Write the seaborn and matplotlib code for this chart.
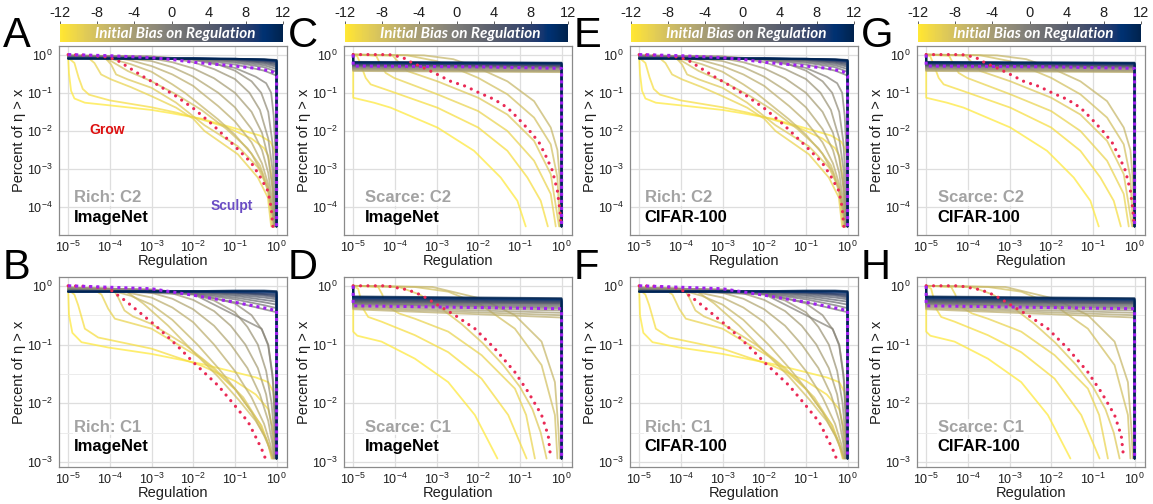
import numpy as np
import pandas as pd
import matplotlib
matplotlib.use("Agg")
import matplotlib.pyplot as plt
import seaborn as sns
from matplotlib.ticker import LogFormatterMathtext, FixedLocator, NullLocator, NullFormatter
import matplotlib.cm as cm
import matplotlib.colors as mcolors

# ------------------------------------------------------------------
# Data (log10 of regulation, log10 of percent)
# ------------------------------------------------------------------
CBAR_TICKS = [-12, -8, -4, 0, 4, 8, 12]
X_EXP = [-5, -4, -3, -2, -1, 0]
Y_EXP_TOP = [0, -1, -2, -3, -4]
Y_EXP_BOT = [0, -1, -2, -3]
FLOOR_C2 = -4.5
FLOOR_C1 = -2.94

# ---- Rich, C2 (panels A, E) : curves that bend away from the bundle
rich_c2_bias = [-12, -11, -10, -9, -8, -7, -6, -5, -4, -3, -2, -1]
rich_c2_lx = [
    [-5, -4.98, -4.93, -4.85, -4.6, -4, -3, -2.5, -1.8, -1, -0.4, -0.15, -0.05, 0, 0],
    [-5, -4.85, -4.75, -4.65, -4.5, -4, -3, -2.4, -1.8, -1.2, -0.6, -0.3, -0.2, -0.12, -0.06, -0.04],
    [-5, -4.5, -4.37, -4.21, -3.97, -3.5, -3, -2.41, -2.0, -1.73, -0.93, -0.45, -0.21, -0.13],
    [-5, -4.1, -3.97, -3.85, -3.57, -3, -2.41, -1.73, -0.93, -0.45, -0.21, -0.1],
    [-5, -4.2, -3.97, -3.57, -3.0, -2.41, -1.8, -1.2, -0.7, -0.4, -0.2, -0.1, -0.06],
    [-5, -4, -3.5, -3, -2.5, -2.2, -1.8, -1.4, -1, -0.6, -0.35, -0.2, -0.1, -0.07],
    [-5, -4, -3.5, -3, -2.5, -2, -1.8, -1.4, -1, -0.6, -0.35, -0.2, -0.1, -0.06],
    [-5, -4, -3, -2.5, -2, -1.4, -1, -0.6, -0.35, -0.2, -0.1, -0.05],
    [-5, -3.5, -3, -2.5, -2, -1.5, -1, -0.6, -0.35, -0.2, -0.1, -0.05],
    [-5, -3, -2.5, -2, -1.5, -1, -0.65, -0.4, -0.2, -0.1, -0.05, -0.03],
    [-5, -3, -2, -1.5, -1, -0.6, -0.37, -0.2, -0.1, -0.05, -0.02],
    [-5, -3, -2, -1, -0.5, -0.25, -0.13, -0.07, -0.03, 0],
]
rich_c2_ly = [
    [-0.08, -0.5, -0.95, -1.15, -1.26, -1.33, -1.45, -1.54, -1.68, -1.93, -2.12, -2.28, -2.5, -2.7, -4.5],
    [-0.08, -0.22, -0.6, -0.9, -1.05, -1.2, -1.38, -1.52, -1.7, -1.9, -2.2, -2.45, -2.65, -3.2, -4.0, -4.5],
    [-0.06, -0.1, -0.22, -0.52, -0.65, -0.85, -1.09, -1.39, -1.68, -2.0, -2.61, -3.22, -3.74, -4.5],
    [-0.05, -0.1, -0.26, -0.52, -0.65, -0.87, -1.26, -1.85, -2.4, -2.95, -3.5, -4.5],
    [-0.04, -0.08, -0.17, -0.43, -0.7, -1.04, -1.45, -1.95, -2.45, -2.9, -3.5, -4.1, -4.5],
    [-0.05, -0.1, -0.25, -0.45, -0.78, -1.0, -1.35, -1.7, -2.1, -2.6, -3.1, -3.6, -4.2, -4.5],
    [-0.04, -0.06, -0.15, -0.3, -0.52, -0.82, -1.0, -1.35, -1.75, -2.3, -2.85, -3.4, -4.1, -4.5],
    [-0.03, -0.05, -0.17, -0.33, -0.58, -1.0, -1.38, -1.95, -2.5, -3.1, -3.9, -4.5],
    [-0.02, -0.05, -0.1, -0.2, -0.36, -0.62, -1.0, -1.5, -2.05, -2.7, -3.5, -4.5],
    [-0.02, -0.05, -0.1, -0.2, -0.38, -0.64, -1.0, -1.45, -2.2, -3.0, -4.0, -4.5],
    [-0.03, -0.05, -0.12, -0.22, -0.42, -0.7, -1.0, -1.5, -2.3, -3.3, -4.5],
    [-0.05, -0.08, -0.14, -0.35, -0.58, -0.75, -1.0, -1.6, -2.5, -4.5],
]
# flat bundle, biases 0..12, sampled at these regulation exponents
bundle_rich_lx = [-5, -2, -1, -0.3, 0]
rich_bundle_bias = [0, 1, 2, 3, 4, 5, 6, 7, 8, 9, 10, 11, 12]
rich_c2_bundle_ly = [
    [-0.04, -0.12, -0.26, -0.42, -0.55],
    [-0.05, -0.11, -0.21, -0.33, -0.45],
    [-0.06, -0.10, -0.18, -0.28, -0.38],
    [-0.07, -0.10, -0.15, -0.24, -0.32],
    [-0.08, -0.10, -0.14, -0.21, -0.28],
    [-0.08, -0.10, -0.13, -0.19, -0.25],
    [-0.09, -0.10, -0.12, -0.17, -0.22],
    [-0.09, -0.10, -0.12, -0.16, -0.20],
    [-0.10, -0.10, -0.12, -0.15, -0.18],
    [-0.10, -0.10, -0.11, -0.14, -0.17],
    [-0.10, -0.10, -0.11, -0.13, -0.16],
    [-0.11, -0.11, -0.11, -0.13, -0.15],
    [-0.11, -0.11, -0.11, -0.12, -0.14],
]
rich_c2_grow_lx = [-5, -4.5, -4.1, -3.85, -3.53, -3.21, -2.89, -2.41, -1.97, -1.53, -1.01, -0.61, -0.41, -0.21, -0.13, -0.09]
rich_c2_grow_ly = [0, -0.02, -0.06, -0.13, -0.35, -0.57, -0.77, -1.09, -1.43, -1.84, -2.39, -2.83, -3.17, -3.57, -4.0, -4.5]
rich_c2_sculpt_lx = [-5, -4, -3, -2.5, -2, -1, -0.4, -0.1, 0, 0]
rich_c2_sculpt_ly = [0, -0.03, -0.08, -0.13, -0.2, -0.3, -0.37, -0.45, -0.55, -4.5]

# ---- Rich, C1 (panels B, F)
rich_c1_bias = [-12, -11, -10, -9, -8, -7, -6, -5, -4, -3, -2, -1]
rich_c1_lx = [
    [-5, -4.98, -4.9, -4.68, -4.04, -3, -1.8, -1.0, -0.5, -0.2, -0.08, -0.02, 0],
    [-5, -4.85, -4.76, -4.6, -4.28, -3, -1.8, -1.0, -0.5, -0.2, -0.1, -0.04, 0],
    [-5, -4.3, -4.2, -4.04, -3.88, -3, -1.8, -1.0, -0.36, -0.2, -0.12],
    [-5, -3.9, -3.8, -3.65, -3.45, -3, -2.2, -1.5, -0.8, -0.4, -0.2, -0.1],
    [-5, -3.6, -3.2, -2.6, -2.0, -1.4, -0.9, -0.5, -0.25, -0.15, -0.1],
    [-5, -4, -3.5, -3, -2.5, -1.9, -1.4, -1, -0.6, -0.3, -0.15, -0.08],
    [-5, -4, -3, -2.5, -2, -1.5, -1, -0.6, -0.3, -0.15, -0.07],
    [-5, -3.5, -3, -2.5, -2, -1.5, -1.1, -0.7, -0.4, -0.2, -0.1, -0.06],
    [-5, -3, -2.5, -2, -1.5, -1.1, -0.75, -0.45, -0.25, -0.12, -0.05],
    [-5, -3, -2, -1.5, -1, -0.7, -0.45, -0.25, -0.12, -0.06, -0.03],
    [-5, -3, -2, -1, -0.6, -0.35, -0.2, -0.1, -0.05, -0.02],
    [-5, -3, -2, -1, -0.36, -0.2, -0.08, -0.03, 0],
]
rich_c1_ly = [
    [-0.08, -0.5, -0.8, -0.96, -1.05, -1.16, -1.33, -1.47, -1.56, -1.64, -1.8, -2.1, -2.94],
    [-0.06, -0.15, -0.33, -0.73, -0.88, -1.07, -1.36, -1.62, -1.85, -2.1, -2.4, -2.7, -2.94],
    [-0.05, -0.1, -0.15, -0.39, -0.56, -0.73, -1.24, -1.76, -2.38, -2.7, -2.94],
    [-0.04, -0.08, -0.2, -0.42, -0.52, -0.65, -1.0, -1.4, -1.9, -2.35, -2.7, -2.94],
    [-0.03, -0.1, -0.3, -0.68, -1.12, -1.55, -1.95, -2.3, -2.6, -2.8, -2.94],
    [-0.04, -0.07, -0.17, -0.32, -0.58, -1.0, -1.4, -1.75, -2.15, -2.55, -2.8, -2.94],
    [-0.03, -0.05, -0.2, -0.37, -0.62, -1.0, -1.45, -1.9, -2.35, -2.7, -2.94],
    [-0.03, -0.06, -0.12, -0.22, -0.4, -0.68, -1.0, -1.4, -1.85, -2.3, -2.7, -2.94],
    [-0.03, -0.07, -0.13, -0.24, -0.43, -0.68, -1.0, -1.4, -1.85, -2.4, -2.94],
    [-0.04, -0.06, -0.14, -0.25, -0.45, -0.7, -1.0, -1.45, -2.0, -2.5, -2.94],
    [-0.05, -0.07, -0.12, -0.3, -0.5, -0.75, -1.0, -1.5, -2.2, -2.94],
    [-0.06, -0.08, -0.14, -0.5, -0.73, -1.02, -1.64, -2.4, -2.94],
]
rich_c1_bundle_ly = [
    [-0.06, -0.15, -0.28, -0.40, -0.45],
    [-0.07, -0.13, -0.23, -0.33, -0.38],
    [-0.08, -0.12, -0.20, -0.28, -0.32],
    [-0.08, -0.11, -0.17, -0.24, -0.27],
    [-0.09, -0.10, -0.15, -0.20, -0.23],
    [-0.09, -0.10, -0.13, -0.17, -0.20],
    [-0.09, -0.10, -0.12, -0.15, -0.18],
    [-0.10, -0.10, -0.11, -0.14, -0.16],
    [-0.10, -0.10, -0.11, -0.13, -0.14],
    [-0.10, -0.10, -0.10, -0.11, -0.12],
    [-0.10, -0.10, -0.10, -0.10, -0.11],
    [-0.10, -0.09, -0.09, -0.09, -0.10],
    [-0.10, -0.09, -0.08, -0.08, -0.09],
]
rich_c1_grow_lx = [-5, -4.5, -4.1, -3.96, -3.6, -3.24, -2.9, -2.6, -2.3, -2.0, -1.7, -1.4, -1.0, -0.68, -0.44, -0.32, -0.27]
rich_c1_grow_ly = [0, -0.01, -0.04, -0.08, -0.27, -0.48, -0.68, -0.875, -1.08, -1.30, -1.5, -1.70, -2.04, -2.32, -2.66, -2.84, -2.94]
rich_c1_sculpt_lx = [-5, -3, -2, -1, -0.2, -0.03, 0, 0]
rich_c1_sculpt_ly = [0, -0.05, -0.16, -0.28, -0.39, -0.42, -0.42, -2.94]

# ---- Scarce, C2 (panels C, G)
scarce_c2_bias = [-12, -11, -10, -9, -8, -7]
scarce_c2_lx = [
    [-5, -5, -4.5, -4.1, -2.98, -2.1, -1.46, -1.06, -0.86],
    [-5, -4.9, -4.82, -4.7, -4.58, -4.1, -2.98, -2.0, -1.3, -0.82, -0.5, -0.33],
    [-5, -4.45, -4.34, -4.22, -4.02, -2.98, -2.0, -1.3, -0.66, -0.26, -0.14],
    [-5, -4.05, -3.86, -3.7, -2.98, -2.0, -1.3, -0.66, -0.26, -0.06],
    [-5, -3.7, -3, -2.5, -2, -1.3, -0.66, -0.26, -0.1, -0.04],
    [-5, -3.3, -2.6, -2, -1.3, -0.66, -0.26, -0.1, -0.04, -0.01],
]
scarce_c2_ly = [
    [0, -1.13, -1.26, -1.39, -1.91, -2.52, -3.22, -3.83, -4.5],
    [0, -0.05, -0.26, -0.61, -0.78, -0.96, -1.39, -1.91, -2.52, -3.22, -3.83, -4.5],
    [0, -0.03, -0.26, -0.48, -0.61, -1.04, -1.48, -2.0, -2.78, -3.65, -4.5],
    [0, -0.03, -0.26, -0.43, -0.7, -1.13, -1.57, -2.26, -3.13, -4.5],
    [0, -0.02, -0.17, -0.38, -0.61, -1.04, -1.65, -2.35, -3.22, -4.5],
    [0, -0.02, -0.12, -0.35, -0.7, -1.22, -1.91, -2.5, -3.3, -4.5],
]
scarce_bundle_bias = [-6, -5, -4, -3, -2, -1, 0, 1, 2, 3, 4, 5, 6, 7, 8, 9, 10, 11, 12]
scarce_c2_bundle_start = [-0.43, -0.41, -0.39, -0.37, -0.35, -0.33, -0.31, -0.30, -0.29, -0.28,
                          -0.27, -0.26, -0.25, -0.24, -0.23, -0.22, -0.21, -0.20, -0.19]
scarce_c2_bundle_end = [-0.46, -0.44, -0.42, -0.40, -0.37, -0.35, -0.33, -0.32, -0.31, -0.30,
                        -0.29, -0.28, -0.27, -0.26, -0.25, -0.24, -0.23, -0.22, -0.21]
scarce_c2_grow_lx = [-5, -4.14, -3.82, -3.58, -3.3, -2.98, -2.66, -2.3, -1.98, -1.62, -1.3, -1.06,
                     -0.78, -0.54, -0.38, -0.22, -0.1, -0.04, -0.01]
scarce_c2_grow_ly = [0, 0, -0.07, -0.22, -0.35, -0.52, -0.70, -0.83, -1.0, -1.17, -1.39, -1.65,
                     -1.98, -2.3, -2.65, -3.04, -3.57, -4.09, -4.5]
scarce_c2_sculpt_lx = [-5, -5, -2, 0, 0]
scarce_c2_sculpt_ly = [0, -0.3, -0.32, -0.36, -4.5]

# ---- Scarce, C1 (panels D, H)
scarce_c1_bias = [-12, -11, -10, -9, -8, -7]
scarce_c1_lx = [
    [-5, -5, -4.9, -4.32, -3.52, -2.72, -2.08, -1.54],
    [-5, -4.88, -4.76, -4.64, -4.32, -3.52, -2.72, -1.92, -1.28, -0.84],
    [-5, -4.4, -4.3, -4.24, -3.9, -3.52, -2.72, -1.92, -1.12, -0.85, -0.64],
    [-5, -3.9, -3.4, -2.9, -2.4, -1.9, -1.4, -1.0, -0.7, -0.5, -0.36],
    [-5, -3.52, -2.72, -1.92, -1.12, -0.48, -0.16, -0.1],
    [-5, -3.1, -1.92, -1.12, -0.48, -0.16, -0.08, -0.04],
]
scarce_c1_ly = [
    [0, -0.78, -0.85, -0.95, -1.24, -1.64, -2.2, -2.94],
    [0, -0.05, -0.39, -0.53, -0.61, -0.84, -1.13, -1.58, -2.2, -2.94],
    [0, -0.02, -0.15, -0.33, -0.47, -0.56, -0.78, -1.18, -1.75, -2.2, -2.94],
    [0, -0.02, -0.15, -0.38, -0.65, -0.97, -1.35, -1.72, -2.1, -2.5, -2.94],
    [0, -0.02, -0.1, -0.33, -0.73, -1.35, -2.2, -2.94],
    [0, -0.02, -0.22, -0.5, -0.95, -1.64, -2.4, -2.94],
]
scarce_c1_bundle_start = [-0.40, -0.38, -0.36, -0.34, -0.32, -0.31, -0.30, -0.29, -0.28, -0.27,
                          -0.26, -0.25, -0.24, -0.23, -0.22, -0.21, -0.20, -0.19, -0.18]
scarce_c1_bundle_end = [-0.54, -0.50, -0.46, -0.42, -0.39, -0.37, -0.35, -0.33, -0.31, -0.30,
                        -0.29, -0.28, -0.27, -0.26, -0.25, -0.24, -0.23, -0.22, -0.21]
scarce_c1_grow_lx = [-5, -4.2, -3.68, -3.36, -2.96, -2.56, -2.08, -1.6, -1.12, -0.8, -0.48, -0.32, -0.26]
scarce_c1_grow_ly = [0, 0, -0.07, -0.16, -0.33, -0.5, -0.73, -1.07, -1.47, -1.81, -2.2, -2.55, -2.94]
scarce_c1_sculpt_lx = [-5, -5, 0, 0]
scarce_c1_sculpt_ly = [0, -0.34, -0.39, -2.94]

# ------------------------------------------------------------------
def rich_frame(bias, lx, ly, bundle_ly, floor):
    rows = []
    cid = 0
    for b, xs, ys in zip(bias, lx, ly):
        for x, y in zip(xs, ys):
            rows.append((cid, b, x, y))
        cid += 1
    for b, ys in zip(rich_bundle_bias, bundle_ly):
        for x, y in zip(bundle_rich_lx + [0], ys + [floor]):
            rows.append((cid, b, x, y))
        cid += 1
    return pd.DataFrame(rows, columns=["cid", "bias", "lx", "ly"])


def scarce_frame(bias, lx, ly, b_start, b_end, floor):
    rows = []
    cid = 0
    for b, xs, ys in zip(bias, lx, ly):
        for x, y in zip(xs, ys):
            rows.append((cid, b, x, y))
        cid += 1
    for b, s, e in zip(scarce_bundle_bias, b_start, b_end):
        for x, y in zip([-5, -5, 0, 0], [0, s, e, floor]):
            rows.append((cid, b, x, y))
        cid += 1
    return pd.DataFrame(rows, columns=["cid", "bias", "lx", "ly"])


REGIMES = {
    "rich_c2": dict(df=rich_frame(rich_c2_bias, rich_c2_lx, rich_c2_ly, rich_c2_bundle_ly, FLOOR_C2),
                    grow=(rich_c2_grow_lx, rich_c2_grow_ly), sculpt=(rich_c2_sculpt_lx, rich_c2_sculpt_ly),
                    label="Rich: C2"),
    "rich_c1": dict(df=rich_frame(rich_c1_bias, rich_c1_lx, rich_c1_ly, rich_c1_bundle_ly, FLOOR_C1),
                    grow=(rich_c1_grow_lx, rich_c1_grow_ly), sculpt=(rich_c1_sculpt_lx, rich_c1_sculpt_ly),
                    label="Rich: C1"),
    "scarce_c2": dict(df=scarce_frame(scarce_c2_bias, scarce_c2_lx, scarce_c2_ly,
                                      scarce_c2_bundle_start, scarce_c2_bundle_end, FLOOR_C2),
                      grow=(scarce_c2_grow_lx, scarce_c2_grow_ly), sculpt=(scarce_c2_sculpt_lx, scarce_c2_sculpt_ly),
                      label="Scarce: C2"),
    "scarce_c1": dict(df=scarce_frame(scarce_c1_bias, scarce_c1_lx, scarce_c1_ly,
                                      scarce_c1_bundle_start, scarce_c1_bundle_end, FLOOR_C1),
                      grow=(scarce_c1_grow_lx, scarce_c1_grow_ly), sculpt=(scarce_c1_sculpt_lx, scarce_c1_sculpt_ly),
                      label="Scarce: C1"),
}

PANELS = [
    # letter, regime, dataset, column, row
    ("A", "rich_c2", "ImageNet", 0, 0),
    ("C", "scarce_c2", "ImageNet", 1, 0),
    ("E", "rich_c2", "CIFAR-100", 2, 0),
    ("G", "scarce_c2", "CIFAR-100", 3, 0),
    ("B", "rich_c1", "ImageNet", 0, 1),
    ("D", "scarce_c1", "ImageNet", 1, 1),
    ("F", "rich_c1", "CIFAR-100", 2, 1),
    ("H", "scarce_c1", "CIFAR-100", 3, 1),
]

# ------------------------------------------------------------------
sns.set_style("white")
plt.rcParams["font.family"] = ["Liberation Sans", "DejaVu Sans"]
plt.rcParams["mathtext.default"] = "regular"

W, H = 1153, 504
fig = plt.figure(figsize=(W / 100, H / 100), dpi=100)

COL_LEFT = [59, 344, 630, 917]
AX_W = 228
ROW_TOP = [46, 277]
ROW_H = [189, 190]

cmap = plt.get_cmap("cividis_r")
norm = mcolors.Normalize(-12, 12)
GROW_C = "#ea2a55"
SCULPT_C = "#a020f0"
dot_style = (0, (0.01, 2.3))
sq_style = (0, (1.0, 1.3))


def frac_rect(left, top, w, h):
    return [left / W, 1 - (top + h) / H, w / W, h / H]


for letter, regime, dataset, col, row in PANELS:
    R = REGIMES[regime]
    ax = fig.add_axes(frac_rect(COL_LEFT[col], ROW_TOP[row], AX_W, ROW_H[row]))
    ax.set_xscale("log")
    ax.set_yscale("log")
    df = R["df"].copy()
    df["x"] = 10.0 ** df["lx"]
    df["y"] = 10.0 ** df["ly"]
    sns.lineplot(data=df, x="x", y="y", hue="bias", units="cid", estimator=None, sort=False,
                 palette="cividis_r", hue_norm=(-12, 12), legend=False, lw=1.3, alpha=0.72, ax=ax)
    gx, gy = R["grow"]
    sx, sy = R["sculpt"]
    sns.lineplot(x=10.0 ** np.array(gx), y=10.0 ** np.array(gy), sort=False, estimator=None,
                 color=GROW_C, lw=2.3, linestyle=dot_style, dash_capstyle="round", ax=ax, zorder=5)
    sns.lineplot(x=10.0 ** np.array(sx), y=10.0 ** np.array(sy), sort=False, estimator=None,
                 color=SCULPT_C, lw=2.2, linestyle=sq_style, dash_capstyle="butt", ax=ax, zorder=6)

    ax.set_xlim(10 ** -5.22, 10 ** 0.25)
    if row == 0:
        ax.set_ylim(10 ** -4.725, 10 ** 0.225)
        ax.yaxis.set_major_locator(FixedLocator([10.0 ** e for e in Y_EXP_TOP]))
        ax.yaxis.set_minor_locator(NullLocator())
    else:
        ax.set_ylim(10 ** -3.085, 10 ** 0.15)
        ax.yaxis.set_major_locator(FixedLocator([10.0 ** e for e in Y_EXP_BOT]))
        ax.yaxis.set_minor_locator(FixedLocator([10 ** -0.5, 10 ** -1.5, 10 ** -2.5]))
        ax.yaxis.set_minor_formatter(NullFormatter())
        ax.grid(True, which="minor", axis="y", color="#ececec", lw=0.7)
    ax.xaxis.set_major_locator(FixedLocator([10.0 ** e for e in X_EXP]))
    ax.xaxis.set_minor_locator(NullLocator())
    ax.xaxis.set_major_formatter(LogFormatterMathtext())
    ax.yaxis.set_major_formatter(LogFormatterMathtext())
    ax.grid(True, which="major", color="#dedede", lw=0.9)
    ax.set_axisbelow(True)
    ax.tick_params(which="major", length=3, width=0.8, color="#555555", labelsize=9,
                   labelcolor="#1e1e1e", pad=1.5)
    ax.tick_params(axis="x", which="major", pad=0.5)
    ax.tick_params(which="minor", length=0)
    for sp in ax.spines.values():
        sp.set_color("#8a8a8a")
        sp.set_linewidth(0.9)

    ax.set_xlabel("Regulation", fontsize=10.5, color="#1e1e1e")
    ax.set_ylabel("Percent of η > x", fontsize=10.5, color="#1e1e1e")
    ax.xaxis.label.set_va("center")
    ax.yaxis.label.set_va("center")
    xl_off = 26
    ax.xaxis.set_label_coords(0.5, -xl_off / ROW_H[row])
    ax.yaxis.set_label_coords(-40 / AX_W, 0.5)

    # regime / dataset labels
    tx = 0.065 if regime.startswith("rich") else 0.09
    ty1, ty2 = (0.196, 0.095) if row == 0 else (0.21, 0.11)
    bb = dict(facecolor="white", edgecolor="none", alpha=0.75, pad=0.5)
    ax.text(tx, ty1, R["label"], transform=ax.transAxes, ha="left", va="center",
            fontsize=12, fontweight="bold", color="#a3a3a3", bbox=bb, zorder=7)
    ax.text(tx, ty2, dataset, transform=ax.transAxes, ha="left", va="center",
            fontsize=12, fontweight="bold", color="black", bbox=bb, zorder=7)

    if letter == "A":
        ax.text(0.211, 0.556, "Grow", transform=ax.transAxes, ha="center", va="center",
                fontsize=10, fontweight="bold", color="#dd1111", zorder=7)
        ax.text(0.758, 0.153, "Sculpt", transform=ax.transAxes, ha="center", va="center",
                fontsize=10, fontweight="bold", color="#6a4cc4", zorder=7)

    # panel letter
    base_y = 47 if row == 0 else 279
    lx_pos = COL_LEFT[col] - 56
    fig.text(lx_pos / W, 1 - base_y / H, letter, fontsize=30, ha="left", va="baseline", color="black")

    # colour bar above the top row
    if row == 0:
        cax = fig.add_axes(frac_rect(COL_LEFT[col] + 1, 24, AX_W - 5, 18))
        cb = fig.colorbar(cm.ScalarMappable(norm=norm, cmap=cmap), cax=cax, orientation="horizontal")
        cb.outline.set_visible(False)
        cb.set_ticks(CBAR_TICKS)
        cb.set_ticklabels([str(t) for t in CBAR_TICKS])
        cax.xaxis.set_ticks_position("top")
        cax.tick_params(axis="x", length=2, width=0.6, color="#444444", labelsize=10.5,
                        labelcolor="#1e1e1e", pad=1)
        cax.text(0.515, 0.45, "Initial Bias on Regulation", transform=cax.transAxes, ha="center",
                 va="center", color="white", fontsize=11, fontweight="bold", fontstyle="italic",
                 family=["Lato", "DejaVu Sans"])

fig.savefig("out.png", dpi=100)
